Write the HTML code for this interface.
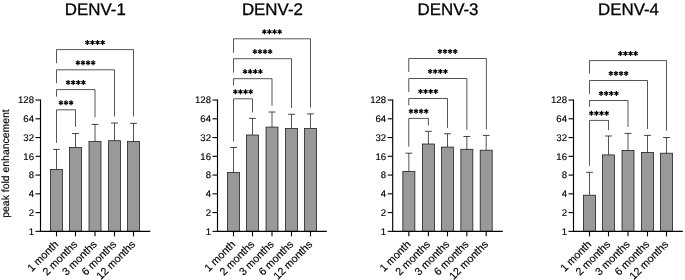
<!DOCTYPE html><html><head><meta charset="utf-8"><title>DENV peak fold enhancement</title><style>html,body{margin:0;padding:0;background:#fff;overflow:hidden;font-family:"Liberation Sans",sans-serif}svg{display:block;filter:grayscale(1)}</style></head><body><svg width="685" height="280" viewBox="0 0 685 280">
<rect width="685" height="280" fill="#fff"/>
<g font-family="'Liberation Sans', sans-serif" fill="#000" text-rendering="geometricPrecision">
<text x="95.3" y="15.1" font-size="16.9" text-anchor="middle" stroke="#000" stroke-width="0.3">DENV-1</text>
<line x1="56.5" y1="169.4" x2="56.5" y2="149.4" stroke="#111" stroke-width="0.72"/>
<line x1="53.1" y1="149.4" x2="59.9" y2="149.4" stroke="#111" stroke-width="0.78"/>
<rect x="50.50" y="169.4" width="12.0" height="61.95" fill="#999" stroke="#1c1c1c" stroke-width="0.78"/>
<line x1="75.5" y1="147.5" x2="75.5" y2="133.5" stroke="#111" stroke-width="0.72"/>
<line x1="72.1" y1="133.5" x2="78.9" y2="133.5" stroke="#111" stroke-width="0.78"/>
<rect x="69.50" y="147.5" width="12.0" height="83.85" fill="#999" stroke="#1c1c1c" stroke-width="0.78"/>
<line x1="95.0" y1="141.5" x2="95.0" y2="124.4" stroke="#111" stroke-width="0.72"/>
<line x1="91.6" y1="124.4" x2="98.4" y2="124.4" stroke="#111" stroke-width="0.78"/>
<rect x="89.00" y="141.5" width="12.0" height="89.85" fill="#999" stroke="#1c1c1c" stroke-width="0.78"/>
<line x1="114.5" y1="140.7" x2="114.5" y2="123.0" stroke="#111" stroke-width="0.72"/>
<line x1="111.1" y1="123.0" x2="117.9" y2="123.0" stroke="#111" stroke-width="0.78"/>
<rect x="108.50" y="140.7" width="12.0" height="90.65" fill="#999" stroke="#1c1c1c" stroke-width="0.78"/>
<line x1="133.5" y1="141.4" x2="133.5" y2="123.3" stroke="#111" stroke-width="0.72"/>
<line x1="130.1" y1="123.3" x2="136.9" y2="123.3" stroke="#111" stroke-width="0.78"/>
<rect x="127.50" y="141.4" width="12.0" height="89.95" fill="#999" stroke="#1c1c1c" stroke-width="0.78"/>
<path d="M56.5 63.2V49.6H133.5V116.4" fill="none" stroke="#1a1a1a" stroke-width="0.74"/>
<path d="M87.35 40.00V45.00M92.45 40.00V45.00M97.55 40.00V45.00M102.65 40.00V45.00" fill="none" stroke="#000" stroke-width="1.2"/>
<path d="M85.27 41.30L89.43 43.70M90.37 41.30L94.53 43.70M95.47 41.30L99.63 43.70M100.57 41.30L104.73 43.70" fill="none" stroke="#000" stroke-width="1.2"/>
<path d="M85.27 43.70L89.43 41.30M90.37 43.70L94.53 41.30M95.47 43.70L99.63 41.30M100.57 43.70L104.73 41.30" fill="none" stroke="#000" stroke-width="1.2"/>
<path d="M56.5 83.2V69.8H114.5V116.4" fill="none" stroke="#1a1a1a" stroke-width="0.74"/>
<path d="M77.85 60.20V65.20M82.95 60.20V65.20M88.05 60.20V65.20M93.15 60.20V65.20" fill="none" stroke="#000" stroke-width="1.2"/>
<path d="M75.77 61.50L79.93 63.90M80.87 61.50L85.03 63.90M85.97 61.50L90.13 63.90M91.07 61.50L95.23 63.90" fill="none" stroke="#000" stroke-width="1.2"/>
<path d="M75.77 63.90L79.93 61.50M80.87 63.90L85.03 61.50M85.97 63.90L90.13 61.50M91.07 63.90L95.23 61.50" fill="none" stroke="#000" stroke-width="1.2"/>
<path d="M56.5 96.7V89.6H95.0V117.3" fill="none" stroke="#1a1a1a" stroke-width="0.74"/>
<path d="M68.10 80.00V85.00M73.20 80.00V85.00M78.30 80.00V85.00M83.40 80.00V85.00" fill="none" stroke="#000" stroke-width="1.2"/>
<path d="M66.02 81.30L70.18 83.70M71.12 81.30L75.28 83.70M76.22 81.30L80.38 83.70M81.32 81.30L85.48 83.70" fill="none" stroke="#000" stroke-width="1.2"/>
<path d="M66.02 83.70L70.18 81.30M71.12 83.70L75.28 81.30M76.22 83.70L80.38 81.30M81.32 83.70L85.48 81.30" fill="none" stroke="#000" stroke-width="1.2"/>
<path d="M56.5 142.8V109.8H75.5V126.7" fill="none" stroke="#1a1a1a" stroke-width="0.74"/>
<path d="M60.90 100.20V105.20M66.00 100.20V105.20M71.10 100.20V105.20" fill="none" stroke="#000" stroke-width="1.2"/>
<path d="M58.82 101.50L62.98 103.90M63.92 101.50L68.08 103.90M69.02 101.50L73.18 103.90" fill="none" stroke="#000" stroke-width="1.2"/>
<path d="M58.82 103.90L62.98 101.50M63.92 103.90L68.08 101.50M69.02 103.90L73.18 101.50" fill="none" stroke="#000" stroke-width="1.2"/>
<path d="M40.5 99.53V231.35H150.3" fill="none" stroke="#000" stroke-width="1.15"/>
<line x1="35.5" y1="231.35" x2="40.5" y2="231.35" stroke="#000" stroke-width="1.1"/>
<text x="34.0" y="234.75" font-size="9.6" text-anchor="end" stroke="#000" stroke-width="0.15">1</text>
<line x1="35.5" y1="212.59" x2="40.5" y2="212.59" stroke="#000" stroke-width="1.1"/>
<text x="34.0" y="215.99" font-size="9.6" text-anchor="end" stroke="#000" stroke-width="0.15">2</text>
<line x1="35.5" y1="193.83" x2="40.5" y2="193.83" stroke="#000" stroke-width="1.1"/>
<text x="34.0" y="197.23" font-size="9.6" text-anchor="end" stroke="#000" stroke-width="0.15">4</text>
<line x1="35.5" y1="175.07" x2="40.5" y2="175.07" stroke="#000" stroke-width="1.1"/>
<text x="34.0" y="178.47" font-size="9.6" text-anchor="end" stroke="#000" stroke-width="0.15">8</text>
<line x1="35.5" y1="156.31" x2="40.5" y2="156.31" stroke="#000" stroke-width="1.1"/>
<text x="34.0" y="159.71" font-size="9.6" text-anchor="end" stroke="#000" stroke-width="0.15">16</text>
<line x1="35.5" y1="137.55" x2="40.5" y2="137.55" stroke="#000" stroke-width="1.1"/>
<text x="34.0" y="140.95" font-size="9.6" text-anchor="end" stroke="#000" stroke-width="0.15">32</text>
<line x1="35.5" y1="118.79" x2="40.5" y2="118.79" stroke="#000" stroke-width="1.1"/>
<text x="34.0" y="122.19" font-size="9.6" text-anchor="end" stroke="#000" stroke-width="0.15">64</text>
<line x1="35.5" y1="100.03" x2="40.5" y2="100.03" stroke="#000" stroke-width="1.1"/>
<text x="34.0" y="103.43" font-size="9.6" text-anchor="end" stroke="#000" stroke-width="0.15">128</text>
<line x1="56.5" y1="231.35" x2="56.5" y2="236.35" stroke="#000" stroke-width="1.1"/>
<text transform="translate(59.0,244.95) rotate(-45)" font-size="10.7" text-anchor="end" stroke="#000" stroke-width="0.15">1 month</text>
<line x1="75.5" y1="231.35" x2="75.5" y2="236.35" stroke="#000" stroke-width="1.1"/>
<text transform="translate(78.0,244.95) rotate(-45)" font-size="10.7" text-anchor="end" stroke="#000" stroke-width="0.15">2 months</text>
<line x1="95.0" y1="231.35" x2="95.0" y2="236.35" stroke="#000" stroke-width="1.1"/>
<text transform="translate(97.5,244.95) rotate(-45)" font-size="10.7" text-anchor="end" stroke="#000" stroke-width="0.15">3 months</text>
<line x1="114.5" y1="231.35" x2="114.5" y2="236.35" stroke="#000" stroke-width="1.1"/>
<text transform="translate(117.0,244.95) rotate(-45)" font-size="10.7" text-anchor="end" stroke="#000" stroke-width="0.15">6 months</text>
<line x1="133.5" y1="231.35" x2="133.5" y2="236.35" stroke="#000" stroke-width="1.1"/>
<text transform="translate(136.0,244.95) rotate(-45)" font-size="10.7" text-anchor="end" stroke="#000" stroke-width="0.15">12 months</text>
<text x="272.4" y="15.1" font-size="16.9" text-anchor="middle" stroke="#000" stroke-width="0.3">DENV-2</text>
<line x1="233.5" y1="172.5" x2="233.5" y2="147.5" stroke="#111" stroke-width="0.72"/>
<line x1="230.1" y1="147.5" x2="236.9" y2="147.5" stroke="#111" stroke-width="0.78"/>
<rect x="227.50" y="172.5" width="12.0" height="58.85" fill="#999" stroke="#1c1c1c" stroke-width="0.78"/>
<line x1="252.5" y1="135.0" x2="252.5" y2="118.4" stroke="#111" stroke-width="0.72"/>
<line x1="249.1" y1="118.4" x2="255.9" y2="118.4" stroke="#111" stroke-width="0.78"/>
<rect x="246.50" y="135.0" width="12.0" height="96.35" fill="#999" stroke="#1c1c1c" stroke-width="0.78"/>
<line x1="272.0" y1="127.1" x2="272.0" y2="112.0" stroke="#111" stroke-width="0.72"/>
<line x1="268.6" y1="112.0" x2="275.4" y2="112.0" stroke="#111" stroke-width="0.78"/>
<rect x="266.00" y="127.1" width="12.0" height="104.25" fill="#999" stroke="#1c1c1c" stroke-width="0.78"/>
<line x1="291.5" y1="128.5" x2="291.5" y2="114.3" stroke="#111" stroke-width="0.72"/>
<line x1="288.1" y1="114.3" x2="294.9" y2="114.3" stroke="#111" stroke-width="0.78"/>
<rect x="285.50" y="128.5" width="12.0" height="102.85" fill="#999" stroke="#1c1c1c" stroke-width="0.78"/>
<line x1="310.5" y1="128.5" x2="310.5" y2="113.9" stroke="#111" stroke-width="0.72"/>
<line x1="307.1" y1="113.9" x2="313.9" y2="113.9" stroke="#111" stroke-width="0.78"/>
<rect x="304.50" y="128.5" width="12.0" height="102.85" fill="#999" stroke="#1c1c1c" stroke-width="0.78"/>
<path d="M233.5 52.7V38.8H310.5V107.5" fill="none" stroke="#1a1a1a" stroke-width="0.74"/>
<path d="M264.35 29.20V34.20M269.45 29.20V34.20M274.55 29.20V34.20M279.65 29.20V34.20" fill="none" stroke="#000" stroke-width="1.2"/>
<path d="M262.27 30.50L266.43 32.90M267.37 30.50L271.53 32.90M272.47 30.50L276.63 32.90M277.57 30.50L281.73 32.90" fill="none" stroke="#000" stroke-width="1.2"/>
<path d="M262.27 32.90L266.43 30.50M267.37 32.90L271.53 30.50M272.47 32.90L276.63 30.50M277.57 32.90L281.73 30.50" fill="none" stroke="#000" stroke-width="1.2"/>
<path d="M233.5 72.6V58.7H291.5V107.9" fill="none" stroke="#1a1a1a" stroke-width="0.74"/>
<path d="M254.85 49.10V54.10M259.95 49.10V54.10M265.05 49.10V54.10M270.15 49.10V54.10" fill="none" stroke="#000" stroke-width="1.2"/>
<path d="M252.77 50.40L256.93 52.80M257.87 50.40L262.03 52.80M262.97 50.40L267.13 52.80M268.07 50.40L272.23 52.80" fill="none" stroke="#000" stroke-width="1.2"/>
<path d="M252.77 52.80L256.93 50.40M257.87 52.80L262.03 50.40M262.97 52.80L267.13 50.40M268.07 52.80L272.23 50.40" fill="none" stroke="#000" stroke-width="1.2"/>
<path d="M233.5 85.5V78.7H272.0V105.9" fill="none" stroke="#1a1a1a" stroke-width="0.74"/>
<path d="M245.10 69.10V74.10M250.20 69.10V74.10M255.30 69.10V74.10M260.40 69.10V74.10" fill="none" stroke="#000" stroke-width="1.2"/>
<path d="M243.02 70.40L247.18 72.80M248.12 70.40L252.28 72.80M253.22 70.40L257.38 72.80M258.32 70.40L262.48 72.80" fill="none" stroke="#000" stroke-width="1.2"/>
<path d="M243.02 72.80L247.18 70.40M248.12 72.80L252.28 70.40M253.22 72.80L257.38 70.40M258.32 72.80L262.48 70.40" fill="none" stroke="#000" stroke-width="1.2"/>
<path d="M233.5 141.4V98.8H252.5V112.4" fill="none" stroke="#1a1a1a" stroke-width="0.74"/>
<path d="M235.35 89.20V94.20M240.45 89.20V94.20M245.55 89.20V94.20M250.65 89.20V94.20" fill="none" stroke="#000" stroke-width="1.2"/>
<path d="M233.27 90.50L237.43 92.90M238.37 90.50L242.53 92.90M243.47 90.50L247.63 92.90M248.57 90.50L252.73 92.90" fill="none" stroke="#000" stroke-width="1.2"/>
<path d="M233.27 92.90L237.43 90.50M238.37 92.90L242.53 90.50M243.47 92.90L247.63 90.50M248.57 92.90L252.73 90.50" fill="none" stroke="#000" stroke-width="1.2"/>
<path d="M217.5 99.53V231.35H326.8" fill="none" stroke="#000" stroke-width="1.15"/>
<line x1="212.5" y1="231.35" x2="217.5" y2="231.35" stroke="#000" stroke-width="1.1"/>
<text x="211.0" y="234.75" font-size="9.6" text-anchor="end" stroke="#000" stroke-width="0.15">1</text>
<line x1="212.5" y1="212.59" x2="217.5" y2="212.59" stroke="#000" stroke-width="1.1"/>
<text x="211.0" y="215.99" font-size="9.6" text-anchor="end" stroke="#000" stroke-width="0.15">2</text>
<line x1="212.5" y1="193.83" x2="217.5" y2="193.83" stroke="#000" stroke-width="1.1"/>
<text x="211.0" y="197.23" font-size="9.6" text-anchor="end" stroke="#000" stroke-width="0.15">4</text>
<line x1="212.5" y1="175.07" x2="217.5" y2="175.07" stroke="#000" stroke-width="1.1"/>
<text x="211.0" y="178.47" font-size="9.6" text-anchor="end" stroke="#000" stroke-width="0.15">8</text>
<line x1="212.5" y1="156.31" x2="217.5" y2="156.31" stroke="#000" stroke-width="1.1"/>
<text x="211.0" y="159.71" font-size="9.6" text-anchor="end" stroke="#000" stroke-width="0.15">16</text>
<line x1="212.5" y1="137.55" x2="217.5" y2="137.55" stroke="#000" stroke-width="1.1"/>
<text x="211.0" y="140.95" font-size="9.6" text-anchor="end" stroke="#000" stroke-width="0.15">32</text>
<line x1="212.5" y1="118.79" x2="217.5" y2="118.79" stroke="#000" stroke-width="1.1"/>
<text x="211.0" y="122.19" font-size="9.6" text-anchor="end" stroke="#000" stroke-width="0.15">64</text>
<line x1="212.5" y1="100.03" x2="217.5" y2="100.03" stroke="#000" stroke-width="1.1"/>
<text x="211.0" y="103.43" font-size="9.6" text-anchor="end" stroke="#000" stroke-width="0.15">128</text>
<line x1="233.5" y1="231.35" x2="233.5" y2="236.35" stroke="#000" stroke-width="1.1"/>
<text transform="translate(236.0,244.95) rotate(-45)" font-size="10.7" text-anchor="end" stroke="#000" stroke-width="0.15">1 month</text>
<line x1="252.5" y1="231.35" x2="252.5" y2="236.35" stroke="#000" stroke-width="1.1"/>
<text transform="translate(255.0,244.95) rotate(-45)" font-size="10.7" text-anchor="end" stroke="#000" stroke-width="0.15">2 months</text>
<line x1="272.0" y1="231.35" x2="272.0" y2="236.35" stroke="#000" stroke-width="1.1"/>
<text transform="translate(274.5,244.95) rotate(-45)" font-size="10.7" text-anchor="end" stroke="#000" stroke-width="0.15">3 months</text>
<line x1="291.5" y1="231.35" x2="291.5" y2="236.35" stroke="#000" stroke-width="1.1"/>
<text transform="translate(294.0,244.95) rotate(-45)" font-size="10.7" text-anchor="end" stroke="#000" stroke-width="0.15">6 months</text>
<line x1="310.5" y1="231.35" x2="310.5" y2="236.35" stroke="#000" stroke-width="1.1"/>
<text transform="translate(313.0,244.95) rotate(-45)" font-size="10.7" text-anchor="end" stroke="#000" stroke-width="0.15">12 months</text>
<text x="448.0" y="15.1" font-size="16.9" text-anchor="middle" stroke="#000" stroke-width="0.3">DENV-3</text>
<line x1="408.85" y1="171.4" x2="408.85" y2="153.2" stroke="#111" stroke-width="0.72"/>
<line x1="405.45000000000005" y1="153.2" x2="412.25" y2="153.2" stroke="#111" stroke-width="0.78"/>
<rect x="402.85" y="171.4" width="12.0" height="59.95" fill="#999" stroke="#1c1c1c" stroke-width="0.78"/>
<line x1="428.4" y1="144.0" x2="428.4" y2="131.3" stroke="#111" stroke-width="0.72"/>
<line x1="425.0" y1="131.3" x2="431.79999999999995" y2="131.3" stroke="#111" stroke-width="0.78"/>
<rect x="422.40" y="144.0" width="12.0" height="87.35" fill="#999" stroke="#1c1c1c" stroke-width="0.78"/>
<line x1="447.5" y1="147.1" x2="447.5" y2="133.8" stroke="#111" stroke-width="0.72"/>
<line x1="444.1" y1="133.8" x2="450.9" y2="133.8" stroke="#111" stroke-width="0.78"/>
<rect x="441.50" y="147.1" width="12.0" height="84.25" fill="#999" stroke="#1c1c1c" stroke-width="0.78"/>
<line x1="466.85" y1="149.3" x2="466.85" y2="136.5" stroke="#111" stroke-width="0.72"/>
<line x1="463.45000000000005" y1="136.5" x2="470.25" y2="136.5" stroke="#111" stroke-width="0.78"/>
<rect x="460.85" y="149.3" width="12.0" height="82.05" fill="#999" stroke="#1c1c1c" stroke-width="0.78"/>
<line x1="486.2" y1="150.2" x2="486.2" y2="135.4" stroke="#111" stroke-width="0.72"/>
<line x1="482.8" y1="135.4" x2="489.59999999999997" y2="135.4" stroke="#111" stroke-width="0.78"/>
<rect x="480.20" y="150.2" width="12.0" height="81.15" fill="#999" stroke="#1c1c1c" stroke-width="0.78"/>
<path d="M408.75 72.0V58.5H486.4V129.3" fill="none" stroke="#1a1a1a" stroke-width="0.74"/>
<path d="M439.93 48.90V53.90M445.02 48.90V53.90M450.12 48.90V53.90M455.22 48.90V53.90" fill="none" stroke="#000" stroke-width="1.2"/>
<path d="M437.85 50.20L442.00 52.60M442.95 50.20L447.10 52.60M448.05 50.20L452.20 52.60M453.15 50.20L457.30 52.60" fill="none" stroke="#000" stroke-width="1.2"/>
<path d="M437.85 52.60L442.00 50.20M442.95 52.60L447.10 50.20M448.05 52.60L452.20 50.20M453.15 52.60L457.30 50.20" fill="none" stroke="#000" stroke-width="1.2"/>
<path d="M408.75 92.0V78.5H466.85V129.7" fill="none" stroke="#1a1a1a" stroke-width="0.74"/>
<path d="M430.15 68.90V73.90M435.25 68.90V73.90M440.35 68.90V73.90M445.45 68.90V73.90" fill="none" stroke="#000" stroke-width="1.2"/>
<path d="M428.07 70.20L432.23 72.60M433.17 70.20L437.33 72.60M438.27 70.20L442.43 72.60M443.37 70.20L447.53 72.60" fill="none" stroke="#000" stroke-width="1.2"/>
<path d="M428.07 72.60L432.23 70.20M433.17 72.60L437.33 70.20M438.27 72.60L442.43 70.20M443.37 72.60L447.53 70.20" fill="none" stroke="#000" stroke-width="1.2"/>
<path d="M408.75 105.4V98.5H447.5V127.8" fill="none" stroke="#1a1a1a" stroke-width="0.74"/>
<path d="M420.48 88.90V93.90M425.57 88.90V93.90M430.68 88.90V93.90M435.77 88.90V93.90" fill="none" stroke="#000" stroke-width="1.2"/>
<path d="M418.40 90.20L422.55 92.60M423.50 90.20L427.65 92.60M428.60 90.20L432.75 92.60M433.70 90.20L437.85 92.60" fill="none" stroke="#000" stroke-width="1.2"/>
<path d="M418.40 92.60L422.55 90.20M423.50 92.60L427.65 90.20M428.60 92.60L432.75 90.20M433.70 92.60L437.85 90.20" fill="none" stroke="#000" stroke-width="1.2"/>
<path d="M408.75 146.7V118.4H428.4V125.5" fill="none" stroke="#1a1a1a" stroke-width="0.74"/>
<path d="M410.93 108.80V113.80M416.02 108.80V113.80M421.12 108.80V113.80M426.22 108.80V113.80" fill="none" stroke="#000" stroke-width="1.2"/>
<path d="M408.85 110.10L413.00 112.50M413.95 110.10L418.10 112.50M419.05 110.10L423.20 112.50M424.15 110.10L428.30 112.50" fill="none" stroke="#000" stroke-width="1.2"/>
<path d="M408.85 112.50L413.00 110.10M413.95 112.50L418.10 110.10M419.05 112.50L423.20 110.10M424.15 112.50L428.30 110.10" fill="none" stroke="#000" stroke-width="1.2"/>
<path d="M392.7 99.53V231.35H502.8" fill="none" stroke="#000" stroke-width="1.15"/>
<line x1="387.7" y1="231.35" x2="392.7" y2="231.35" stroke="#000" stroke-width="1.1"/>
<text x="386.2" y="234.75" font-size="9.6" text-anchor="end" stroke="#000" stroke-width="0.15">1</text>
<line x1="387.7" y1="212.59" x2="392.7" y2="212.59" stroke="#000" stroke-width="1.1"/>
<text x="386.2" y="215.99" font-size="9.6" text-anchor="end" stroke="#000" stroke-width="0.15">2</text>
<line x1="387.7" y1="193.83" x2="392.7" y2="193.83" stroke="#000" stroke-width="1.1"/>
<text x="386.2" y="197.23" font-size="9.6" text-anchor="end" stroke="#000" stroke-width="0.15">4</text>
<line x1="387.7" y1="175.07" x2="392.7" y2="175.07" stroke="#000" stroke-width="1.1"/>
<text x="386.2" y="178.47" font-size="9.6" text-anchor="end" stroke="#000" stroke-width="0.15">8</text>
<line x1="387.7" y1="156.31" x2="392.7" y2="156.31" stroke="#000" stroke-width="1.1"/>
<text x="386.2" y="159.71" font-size="9.6" text-anchor="end" stroke="#000" stroke-width="0.15">16</text>
<line x1="387.7" y1="137.55" x2="392.7" y2="137.55" stroke="#000" stroke-width="1.1"/>
<text x="386.2" y="140.95" font-size="9.6" text-anchor="end" stroke="#000" stroke-width="0.15">32</text>
<line x1="387.7" y1="118.79" x2="392.7" y2="118.79" stroke="#000" stroke-width="1.1"/>
<text x="386.2" y="122.19" font-size="9.6" text-anchor="end" stroke="#000" stroke-width="0.15">64</text>
<line x1="387.7" y1="100.03" x2="392.7" y2="100.03" stroke="#000" stroke-width="1.1"/>
<text x="386.2" y="103.43" font-size="9.6" text-anchor="end" stroke="#000" stroke-width="0.15">128</text>
<line x1="408.85" y1="231.35" x2="408.85" y2="236.35" stroke="#000" stroke-width="1.1"/>
<text transform="translate(411.35,244.95) rotate(-45)" font-size="10.7" text-anchor="end" stroke="#000" stroke-width="0.15">1 month</text>
<line x1="428.4" y1="231.35" x2="428.4" y2="236.35" stroke="#000" stroke-width="1.1"/>
<text transform="translate(430.9,244.95) rotate(-45)" font-size="10.7" text-anchor="end" stroke="#000" stroke-width="0.15">2 months</text>
<line x1="447.5" y1="231.35" x2="447.5" y2="236.35" stroke="#000" stroke-width="1.1"/>
<text transform="translate(450.0,244.95) rotate(-45)" font-size="10.7" text-anchor="end" stroke="#000" stroke-width="0.15">3 months</text>
<line x1="466.85" y1="231.35" x2="466.85" y2="236.35" stroke="#000" stroke-width="1.1"/>
<text transform="translate(469.35,244.95) rotate(-45)" font-size="10.7" text-anchor="end" stroke="#000" stroke-width="0.15">6 months</text>
<line x1="486.2" y1="231.35" x2="486.2" y2="236.35" stroke="#000" stroke-width="1.1"/>
<text transform="translate(488.7,244.95) rotate(-45)" font-size="10.7" text-anchor="end" stroke="#000" stroke-width="0.15">12 months</text>
<text x="628.5" y="15.1" font-size="16.9" text-anchor="middle" stroke="#000" stroke-width="0.3">DENV-4</text>
<line x1="589.5" y1="195.2" x2="589.5" y2="172.3" stroke="#111" stroke-width="0.72"/>
<line x1="586.1" y1="172.3" x2="592.9" y2="172.3" stroke="#111" stroke-width="0.78"/>
<rect x="583.50" y="195.2" width="12.0" height="36.15" fill="#999" stroke="#1c1c1c" stroke-width="0.78"/>
<line x1="608.5" y1="154.9" x2="608.5" y2="136.0" stroke="#111" stroke-width="0.72"/>
<line x1="605.1" y1="136.0" x2="611.9" y2="136.0" stroke="#111" stroke-width="0.78"/>
<rect x="602.50" y="154.9" width="12.0" height="76.45" fill="#999" stroke="#1c1c1c" stroke-width="0.78"/>
<line x1="628.0" y1="150.4" x2="628.0" y2="133.4" stroke="#111" stroke-width="0.72"/>
<line x1="624.6" y1="133.4" x2="631.4" y2="133.4" stroke="#111" stroke-width="0.78"/>
<rect x="622.00" y="150.4" width="12.0" height="80.95" fill="#999" stroke="#1c1c1c" stroke-width="0.78"/>
<line x1="647.5" y1="152.4" x2="647.5" y2="135.4" stroke="#111" stroke-width="0.72"/>
<line x1="644.1" y1="135.4" x2="650.9" y2="135.4" stroke="#111" stroke-width="0.78"/>
<rect x="641.50" y="152.4" width="12.0" height="78.95" fill="#999" stroke="#1c1c1c" stroke-width="0.78"/>
<line x1="666.5" y1="153.2" x2="666.5" y2="137.5" stroke="#111" stroke-width="0.72"/>
<line x1="663.1" y1="137.5" x2="669.9" y2="137.5" stroke="#111" stroke-width="0.78"/>
<rect x="660.50" y="153.2" width="12.0" height="78.15" fill="#999" stroke="#1c1c1c" stroke-width="0.78"/>
<path d="M589.5 73.5V60.6H666.5V130.7" fill="none" stroke="#1a1a1a" stroke-width="0.74"/>
<path d="M620.35 51.00V56.00M625.45 51.00V56.00M630.55 51.00V56.00M635.65 51.00V56.00" fill="none" stroke="#000" stroke-width="1.2"/>
<path d="M618.27 52.30L622.43 54.70M623.37 52.30L627.53 54.70M628.47 52.30L632.63 54.70M633.57 52.30L637.73 54.70" fill="none" stroke="#000" stroke-width="1.2"/>
<path d="M618.27 54.70L622.43 52.30M623.37 54.70L627.53 52.30M628.47 54.70L632.63 52.30M633.57 54.70L637.73 52.30" fill="none" stroke="#000" stroke-width="1.2"/>
<path d="M589.5 93.8V80.5H647.5V128.9" fill="none" stroke="#1a1a1a" stroke-width="0.74"/>
<path d="M610.85 70.90V75.90M615.95 70.90V75.90M621.05 70.90V75.90M626.15 70.90V75.90" fill="none" stroke="#000" stroke-width="1.2"/>
<path d="M608.77 72.20L612.93 74.60M613.87 72.20L618.03 74.60M618.97 72.20L623.13 74.60M624.07 72.20L628.23 74.60" fill="none" stroke="#000" stroke-width="1.2"/>
<path d="M608.77 74.60L612.93 72.20M613.87 74.60L618.03 72.20M618.97 74.60L623.13 72.20M624.07 74.60L628.23 72.20" fill="none" stroke="#000" stroke-width="1.2"/>
<path d="M589.5 106.7V100.5H628.0V127.0" fill="none" stroke="#1a1a1a" stroke-width="0.74"/>
<path d="M601.10 90.90V95.90M606.20 90.90V95.90M611.30 90.90V95.90M616.40 90.90V95.90" fill="none" stroke="#000" stroke-width="1.2"/>
<path d="M599.02 92.20L603.18 94.60M604.12 92.20L608.28 94.60M609.22 92.20L613.38 94.60M614.32 92.20L618.48 94.60" fill="none" stroke="#000" stroke-width="1.2"/>
<path d="M599.02 94.60L603.18 92.20M604.12 94.60L608.28 92.20M609.22 94.60L613.38 92.20M614.32 94.60L618.48 92.20" fill="none" stroke="#000" stroke-width="1.2"/>
<path d="M589.5 165.7V120.4H608.5V130.0" fill="none" stroke="#1a1a1a" stroke-width="0.74"/>
<path d="M591.35 110.80V115.80M596.45 110.80V115.80M601.55 110.80V115.80M606.65 110.80V115.80" fill="none" stroke="#000" stroke-width="1.2"/>
<path d="M589.27 112.10L593.43 114.50M594.37 112.10L598.53 114.50M599.47 112.10L603.63 114.50M604.57 112.10L608.73 114.50" fill="none" stroke="#000" stroke-width="1.2"/>
<path d="M589.27 114.50L593.43 112.10M594.37 114.50L598.53 112.10M599.47 114.50L603.63 112.10M604.57 114.50L608.73 112.10" fill="none" stroke="#000" stroke-width="1.2"/>
<path d="M573.5 99.53V231.35H682.8" fill="none" stroke="#000" stroke-width="1.15"/>
<line x1="568.5" y1="231.35" x2="573.5" y2="231.35" stroke="#000" stroke-width="1.1"/>
<text x="567.0" y="234.75" font-size="9.6" text-anchor="end" stroke="#000" stroke-width="0.15">1</text>
<line x1="568.5" y1="212.59" x2="573.5" y2="212.59" stroke="#000" stroke-width="1.1"/>
<text x="567.0" y="215.99" font-size="9.6" text-anchor="end" stroke="#000" stroke-width="0.15">2</text>
<line x1="568.5" y1="193.83" x2="573.5" y2="193.83" stroke="#000" stroke-width="1.1"/>
<text x="567.0" y="197.23" font-size="9.6" text-anchor="end" stroke="#000" stroke-width="0.15">4</text>
<line x1="568.5" y1="175.07" x2="573.5" y2="175.07" stroke="#000" stroke-width="1.1"/>
<text x="567.0" y="178.47" font-size="9.6" text-anchor="end" stroke="#000" stroke-width="0.15">8</text>
<line x1="568.5" y1="156.31" x2="573.5" y2="156.31" stroke="#000" stroke-width="1.1"/>
<text x="567.0" y="159.71" font-size="9.6" text-anchor="end" stroke="#000" stroke-width="0.15">16</text>
<line x1="568.5" y1="137.55" x2="573.5" y2="137.55" stroke="#000" stroke-width="1.1"/>
<text x="567.0" y="140.95" font-size="9.6" text-anchor="end" stroke="#000" stroke-width="0.15">32</text>
<line x1="568.5" y1="118.79" x2="573.5" y2="118.79" stroke="#000" stroke-width="1.1"/>
<text x="567.0" y="122.19" font-size="9.6" text-anchor="end" stroke="#000" stroke-width="0.15">64</text>
<line x1="568.5" y1="100.03" x2="573.5" y2="100.03" stroke="#000" stroke-width="1.1"/>
<text x="567.0" y="103.43" font-size="9.6" text-anchor="end" stroke="#000" stroke-width="0.15">128</text>
<line x1="589.5" y1="231.35" x2="589.5" y2="236.35" stroke="#000" stroke-width="1.1"/>
<text transform="translate(592.0,244.95) rotate(-45)" font-size="10.7" text-anchor="end" stroke="#000" stroke-width="0.15">1 month</text>
<line x1="608.5" y1="231.35" x2="608.5" y2="236.35" stroke="#000" stroke-width="1.1"/>
<text transform="translate(611.0,244.95) rotate(-45)" font-size="10.7" text-anchor="end" stroke="#000" stroke-width="0.15">2 months</text>
<line x1="628.0" y1="231.35" x2="628.0" y2="236.35" stroke="#000" stroke-width="1.1"/>
<text transform="translate(630.5,244.95) rotate(-45)" font-size="10.7" text-anchor="end" stroke="#000" stroke-width="0.15">3 months</text>
<line x1="647.5" y1="231.35" x2="647.5" y2="236.35" stroke="#000" stroke-width="1.1"/>
<text transform="translate(650.0,244.95) rotate(-45)" font-size="10.7" text-anchor="end" stroke="#000" stroke-width="0.15">6 months</text>
<line x1="666.5" y1="231.35" x2="666.5" y2="236.35" stroke="#000" stroke-width="1.1"/>
<text transform="translate(669.0,244.95) rotate(-45)" font-size="10.7" text-anchor="end" stroke="#000" stroke-width="0.15">12 months</text>
<text transform="translate(8.8,163.5) rotate(-90)" word-spacing="0" font-size="10.45" text-anchor="middle" stroke="#000" stroke-width="0.15">peak fold enhancement</text>
</g></svg></body></html>
